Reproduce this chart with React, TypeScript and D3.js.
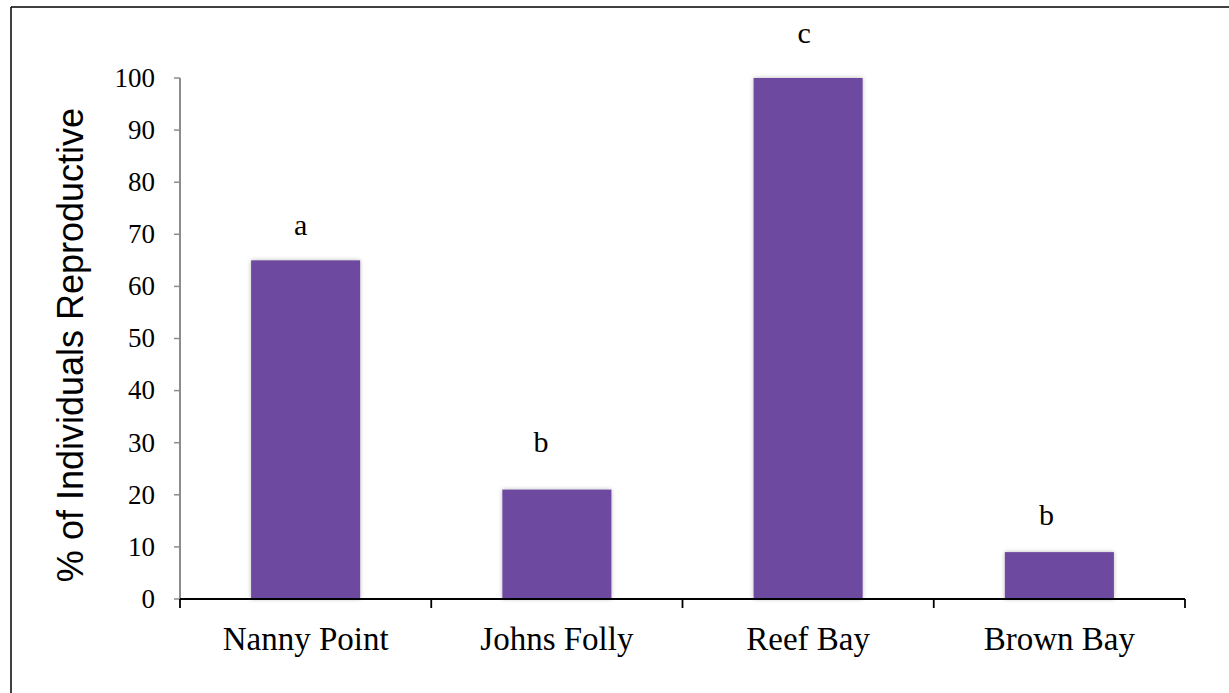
import React from "react";
import * as d3 from "d3";

// Sites and the share of reproductive individuals at each
const sites: string[] = ["Nanny Point", "Johns Folly", "Reef Bay", "Brown Bay"];
const percentReproductive: number[] = [65, 21, 100, 9];
// Significance group letters and the height (in % units) each one sits at
const groupLetters: string[] = ["a", "b", "c", "b"];
const letterLevels: number[] = [69.8, 28.2, 106.7, 14.2];
const yTicks: number[] = [0, 10, 20, 30, 40, 50, 60, 70, 80, 90, 100];

const W = 1229;
const H = 693;
const plot = { left: 180, right: 1185, top: 78, bottom: 599 };
// hand-placed letter boxes sit a little left of each bar's centre
const letterNudge = [-5, -16, -4, -13];
const barColor = "#6E49A0";
const serif = "'Liberation Serif', 'Times New Roman', serif";
const sans = "'Liberation Sans', Arial, sans-serif";

export default function App() {
  const x = d3
    .scaleBand<string>()
    .domain(sites)
    .range([plot.left, plot.right])
    .paddingInner(0.566)
    .paddingOuter(0.283);
  const y = d3.scaleLinear().domain([0, 100]).range([plot.bottom, plot.top]);
  const step = x.step();
  const boundaries = d3.range(sites.length + 1).map((i) => plot.left + i * step);

  return (
    <svg
      width={W}
      height={H}
      style={{ position: "absolute", left: 0, top: 0, background: "#fff" }}
    >
      <defs>
        <filter id="barShadow" x="-10%" y="-10%" width="120%" height="120%">
          <feDropShadow dx="0" dy="0" stdDeviation="2" floodColor="#000" floodOpacity="0.28" />
        </filter>
      </defs>

      {/* frame */}
      <line x1={11} y1={7} x2={W} y2={7} stroke="#000" strokeWidth={1.5} />
      <line x1={11} y1={7} x2={11} y2={H} stroke="#000" strokeWidth={1.5} />

      {/* bars */}
      {sites.map((s, i) => (
        <rect
          key={s}
          x={x(s)}
          y={y(percentReproductive[i])}
          width={x.bandwidth()}
          height={y(0) - y(percentReproductive[i])}
          fill={barColor}
          filter="url(#barShadow)"
        />
      ))}

      {/* group letters */}
      {sites.map((s, i) => (
        <text
          key={"l" + s}
          x={(x(s) as number) + x.bandwidth() / 2 + letterNudge[i]}
          y={y(letterLevels[i])}
          textAnchor="middle"
          fontFamily={serif}
          fontSize={30}
          fill="#000"
        >
          {groupLetters[i]}
        </text>
      ))}

      {/* y axis */}
      <line x1={plot.left} y1={y(100)} x2={plot.left} y2={y(0)} stroke="#8c8c8c" strokeWidth={2} />
      {yTicks.map((t) => (
        <g key={"t" + t}>
          <line x1={plot.left - 6} y1={y(t)} x2={plot.left} y2={y(t)} stroke="#8c8c8c" strokeWidth={1.5} />
          <text
            x={155}
            y={y(t) + 8.8}
            textAnchor="end"
            fontFamily={serif}
            fontSize={27}
            fill="#000"
          >
            {t}
          </text>
        </g>
      ))}

      {/* x axis */}
      <line x1={plot.left} y1={y(0)} x2={plot.right} y2={y(0)} stroke="#000" strokeWidth={1.8} />
      {boundaries.map((bx, i) => (
        <line key={"b" + i} x1={bx} y1={y(0)} x2={bx} y2={y(0) + 9} stroke="#000" strokeWidth={1.8} />
      ))}
      {sites.map((s) => (
        <text
          key={"c" + s}
          x={(x(s) as number) + x.bandwidth() / 2}
          y={650}
          textAnchor="middle"
          fontFamily={serif}
          fontSize={33}
          fill="#000"
        >
          {s}
        </text>
      ))}

      {/* y axis title */}
      <text
        transform={`translate(83, 345) rotate(-90)`}
        textAnchor="middle"
        fontFamily={sans}
        fontSize={36}
        fill="#000"
      >
        % of Individuals Reproductive
      </text>
    </svg>
  );
}
